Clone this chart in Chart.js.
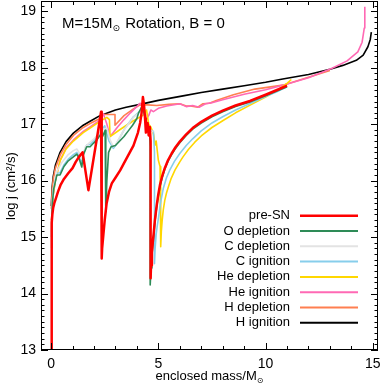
<!DOCTYPE html>
<html><head><meta charset="utf-8">
<script src="https://cdn.jsdelivr.net/npm/chart.js@4/dist/chart.umd.min.js"></script>
<style>html,body{margin:0;padding:0;background:#fff}</style>
</head><body>
<canvas id="c" width="383" height="385"></canvas>
<script>
const xTickLabels = [0, 5, 10, 15];
const yTickLabels = [13, 14, 15, 16, 17, 18, 19];
const seriesLabels = ['pre-SN', 'O depletion', 'C depletion', 'C ignition', 'He depletion', 'He ignition', 'H depletion', 'H ignition'];
const seriesColors = ['#ff0000', '#2e8b57', '#e3e3e3', '#87ceeb', '#ffd700', '#ff69b4', '#ff7f50', '#000000'];

const preSN_mass = [0.02,0.02,0.025,0.03,0.04,0.06,0.1,0.15,0.22,0.32,0.45,0.6,0.8,1.0,1.15,1.3,1.47,1.74,1.9,2.05,2.2,2.33,2.36,2.38,2.44,2.5,2.59,2.7,2.83,3.0,3.22,3.5,3.84,4.05,4.15,4.22,4.28,4.33,4.38,4.42,4.46,4.5,4.55,4.6,4.64,4.64,4.66,4.70,4.74,4.78,4.84,4.92,5.0,5.08,5.18,5.3,5.45,5.62,5.8,6.0,6.3,6.6,7.0,7.5,8.0,8.6,9.27,10.0,10.5,11.0];
const preSN_logj = [13.0,14.0,14.6,15.0,15.25,15.4,15.52,15.6,15.68,15.8,15.93,16.03,16.13,16.22,16.33,16.42,16.5,15.83,16.2,16.55,16.9,17.22,14.62,14.8,15.05,15.3,15.6,15.8,15.95,16.05,16.18,16.38,16.62,16.85,17.02,17.2,17.48,17.35,17.1,16.85,16.95,17.02,16.8,16.95,16.7,14.27,14.5,14.72,14.9,15.05,15.3,15.55,15.76,15.93,16.08,16.22,16.36,16.48,16.59,16.69,16.82,16.93,17.04,17.15,17.24,17.33,17.41,17.52,17.6,17.68];

const oDep_mass = [0.02,0.03,0.06,0.12,0.27,0.42,0.6,0.8,1.04,1.2,1.3,1.43,1.5,1.66,1.82,1.97,2.13,2.28,2.4,2.52,2.55,2.6,2.68,2.8,3.0,3.2,3.4,3.6,3.8,4.0,4.07,4.22,4.3,4.4,4.5,4.6,4.62,4.62,4.66,4.70,4.74,4.78,4.84,4.92,5.0,5.08,5.18,5.3,5.45,5.62,5.8,6.0,6.3,6.6,7.0,7.5,8.0,8.6,9.27,10.0,10.5,11.0];
const oDep_logj = [14.8,15.3,15.6,15.85,16.1,16.1,16.25,16.35,16.42,16.47,16.4,16.24,16.45,16.6,16.6,16.66,16.72,16.8,16.78,16.89,15.45,16.0,16.5,16.6,16.62,16.7,16.78,16.88,16.98,17.1,17.19,17.3,17.25,17.1,16.9,16.8,16.6,14.15,14.45,14.68,14.87,15.02,15.27,15.52,15.73,15.9,16.05,16.2,16.34,16.46,16.57,16.67,16.8,16.91,17.02,17.13,17.22,17.31,17.39,17.5,17.58,17.66];

const cDep_mass = [0.02,0.05,0.1,0.25,0.5,0.8,1.04,1.2,1.3,1.43,1.6,1.82,2.0,2.2,2.4,2.6,2.75,2.9,3.0,3.4,3.84,4.15,4.3,4.4,4.46,4.6,4.77];
const cDep_logj = [15.1,15.55,15.85,16.15,16.32,16.46,16.53,16.56,16.5,16.38,16.6,16.68,16.74,16.82,16.9,16.93,16.72,16.6,16.63,16.9,17.12,17.22,17.28,17.05,16.95,16.9,16.86];

const cIgn_mass = [0.02,0.06,0.12,0.27,0.42,0.6,0.8,1.04,1.2,1.3,1.43,1.5,1.66,1.82,1.97,2.13,2.28,2.4,2.5,2.7,2.9,3.0,3.4,3.84,4.15,4.3,4.4,4.46,4.6,4.77,4.82,4.82,4.85,4.9,4.95,5.0,5.1,5.23,5.38,5.55,5.75,6.0,6.3,6.6,7.0,7.5,8.0,8.6,9.3,10.0,10.5,11.0];
const cIgn_logj = [15.0,15.62,15.88,16.13,16.14,16.28,16.38,16.46,16.5,16.44,16.3,16.48,16.63,16.64,16.7,16.76,16.84,16.92,16.97,16.7,16.57,16.62,16.9,17.13,17.23,17.3,17.05,16.95,16.9,16.87,16.5,14.53,14.8,15.05,15.2,15.32,15.6,15.86,16.05,16.2,16.34,16.48,16.62,16.74,16.88,17.02,17.13,17.25,17.37,17.49,17.57,17.66];

const heDep_mass = [0.02,0.1,0.2,0.42,0.7,1.04,1.5,1.82,2.28,2.6,2.72,2.75,3.2,3.8,4.3,4.45,4.55,4.65,4.77,4.85,4.9,5.0,5.08,5.11,5.11,5.14,5.18,5.23,5.3,5.38,5.47,5.6,5.78,6.0,6.15,6.4,6.7,7.0,7.5,8.0,8.6,9.3,10.0,10.5,11.0,11.2];
const heDep_logj = [15.3,15.75,16.0,16.35,16.56,16.7,16.85,16.93,17.05,17.12,17.08,16.78,16.9,17.05,17.16,17.25,17.0,16.95,16.83,16.63,16.7,16.36,16.25,16.2,14.83,15.1,15.3,15.48,15.65,15.78,15.89,16.04,16.19,16.33,16.42,16.55,16.68,16.79,16.94,17.06,17.2,17.34,17.48,17.59,17.72,17.79];

const heIgn_mass = [0.02,0.1,0.2,0.42,0.7,1.04,1.5,1.82,2.28,2.44,2.6,2.75,2.9,3.1,3.4,3.7,3.99,4.15,4.3,4.4,4.46,4.55,4.65,4.77,5.0,5.39,6.01,6.3,6.6,6.9,7.2,7.5,8.0,9.0,10.0,10.81,12.0,13.1,13.8,14.3,14.5,14.6,14.62,14.63];
const heIgn_logj = [15.3,15.75,16.0,16.36,16.58,16.72,16.87,16.95,17.07,17.18,17.0,16.78,16.85,16.95,17.08,17.2,17.31,17.37,17.3,17.2,17.1,17.15,17.25,17.22,17.28,17.32,17.36,17.31,17.33,17.3,17.36,17.38,17.43,17.53,17.61,17.69,17.82,17.99,18.12,18.28,18.45,18.7,18.9,19.08];

const hDep_mass = [0.01,0.05,0.1,0.2,0.42,0.7,1.04,1.5,1.82,2.28,2.44,2.98,2.98,3.4,3.84,4.15,4.5,4.92,5.5,6.0,6.3,6.5,6.84,7.08,7.39,7.7,8.5,9.5,10.81,12.0,13.0];
const hDep_logj = [15.5,15.82,16.02,16.22,16.45,16.64,16.8,16.94,17.01,17.1,17.17,17.17,16.98,17.15,17.27,17.34,17.34,17.33,17.35,17.36,17.32,17.32,17.3,17.36,17.37,17.42,17.52,17.62,17.69,17.83,17.95];

const hIgn_mass = [0.01,0.05,0.1,0.2,0.42,0.7,1.04,1.5,1.82,2.28,3.0,3.5,4.15,5.0,6.15,7.0,8.0,9.0,10.0,10.8,12.0,13.0,13.6,14.23,14.55,14.77,14.88,14.93];
const hIgn_logj = [15.55,15.88,16.07,16.27,16.5,16.69,16.84,16.98,17.05,17.15,17.25,17.3,17.35,17.42,17.5,17.56,17.62,17.68,17.74,17.8,17.88,17.97,18.04,18.13,18.22,18.37,18.5,18.63];

const seriesMass = [preSN_mass, oDep_mass, cDep_mass, cIgn_mass, heDep_mass, heIgn_mass, hDep_mass, hIgn_mass];
const seriesLogj = [preSN_logj, oDep_logj, cDep_logj, cIgn_logj, heDep_logj, heIgn_logj, hDep_logj, hIgn_logj];
const seriesWidths = [2.5, 1.6, 1.6, 1.6, 1.6, 1.6, 1.6, 1.6];

const FONT = "'Liberation Sans', Arial, sans-serif";

const datasets = seriesLabels.map((lab, i) => ({
  label: lab,
  data: seriesMass[i].map((m, k) => ({x: m, y: seriesLogj[i][k]})),
  borderColor: seriesColors[i],
  backgroundColor: seriesColors[i],
  borderWidth: seriesWidths[i],
  borderJoinStyle: 'round',
  pointRadius: 0,
  showLine: true,
  tension: 0,
  fill: false
}));

const decor = {
  id: 'decor',
  afterDraw(chart) {
    const ctx = chart.ctx, a = chart.chartArea;
    const xs = chart.scales.x, ys = chart.scales.y;
    ctx.save();
    ctx.strokeStyle = '#000';
    ctx.lineWidth = 1;
    ctx.strokeRect(a.left + 0.5, a.top + 0.5, a.right - a.left - 1, a.bottom - a.top - 1);
    ctx.beginPath();
    for (let v = 0; v <= 15; v++) {
      const px = Math.round(xs.getPixelForValue(v)) + 0.5;
      const len = (v % 5 === 0) ? 7 : 4;
      ctx.moveTo(px, a.bottom); ctx.lineTo(px, a.bottom - len);
      ctx.moveTo(px, a.top); ctx.lineTo(px, a.top + len);
    }
    for (let k = 130; k <= 191; k++) {
      const v = k / 10;
      const py = Math.round(ys.getPixelForValue(v)) + 0.5;
      const len = (k % 10 === 0) ? 7 : 3.5;
      ctx.moveTo(a.left, py); ctx.lineTo(a.left + len, py);
      ctx.moveTo(a.right, py); ctx.lineTo(a.right - len, py);
    }
    ctx.stroke();

    ctx.fillStyle = '#000';
    ctx.textBaseline = 'alphabetic';
    ctx.textAlign = 'left';
    let x = 62, y = 28;
    ctx.font = '15px ' + FONT;
    ctx.fillText('M=15M', x, y); x += ctx.measureText('M=15M').width;
    ctx.font = '9px DejaVu Sans';
    ctx.fillText('\u2299', x, y + 3); x += ctx.measureText('\u2299').width + 1;
    ctx.font = '15px ' + FONT;
    ctx.fillText(' Rotation, B = 0', x, y);

    ctx.font = '13px ' + FONT;
    const t1 = 'enclosed mass/M';
    const w1 = ctx.measureText(t1).width;
    ctx.font = '8px DejaVu Sans';
    const w2 = ctx.measureText('\u2299').width;
    let xs0 = (a.left + a.right) / 2 - (w1 + w2) / 2;
    ctx.font = '13px ' + FONT;
    ctx.fillText(t1, xs0, 380);
    ctx.font = '8px DejaVu Sans';
    ctx.fillText('\u2299', xs0 + w1, 383);

    ctx.save();
    ctx.translate(15, 186);
    ctx.rotate(-Math.PI / 2);
    ctx.textAlign = 'center';
    ctx.font = '13px ' + FONT;
    ctx.fillText('log j (cm\u00b2/s)', 0, 0);
    ctx.restore();

    ctx.font = '13px ' + FONT;
    ctx.textAlign = 'right';
    ctx.textBaseline = 'middle';
    for (let i = 0; i < seriesLabels.length; i++) {
      const ly = 215.7 + i * 15.3;
      ctx.fillStyle = '#000';
      ctx.fillText(seriesLabels[i], 290, ly);
      ctx.strokeStyle = seriesColors[i];
      ctx.lineWidth = i === 0 ? 2.5 : 2;
      ctx.beginPath();
      ctx.moveTo(300, ly); ctx.lineTo(358, ly);
      ctx.stroke();
    }
    ctx.restore();
  }
};

new Chart(document.getElementById('c'), {
  type: 'scatter',
  data: { datasets },
  options: {
    responsive: false,
    animation: false,
    devicePixelRatio: 1,
    layout: { padding: { top: 1, right: 5, left: 0, bottom: 0 } },
    plugins: { legend: { display: false }, tooltip: { enabled: false } },
    scales: {
      x: {
        type: 'linear', min: -0.47, max: 15.24,
        afterBuildTicks: s => { s.ticks = xTickLabels.map(v => ({value: v})); },
        afterFit: s => { s.height = 35; s.paddingLeft = 0; s.paddingRight = 0; },
        grid: { display: false, drawTicks: false },
        border: { display: false },
        ticks: { padding: 6, color: '#000', font: { family: FONT, size: 14 }, maxRotation: 0, autoSkip: false }
      },
      y: {
        type: 'linear', min: 13, max: 19.18,
        afterBuildTicks: s => { s.ticks = yTickLabels.map(v => ({value: v})); },
        afterFit: s => { s.width = 41; s.paddingTop = 0; s.paddingBottom = 0; },
        grid: { display: false, drawTicks: false },
        border: { display: false },
        ticks: { padding: 5, color: '#000', font: { family: FONT, size: 14 }, autoSkip: false }
      }
    }
  },
  plugins: [decor]
});
</script>
</body></html>
